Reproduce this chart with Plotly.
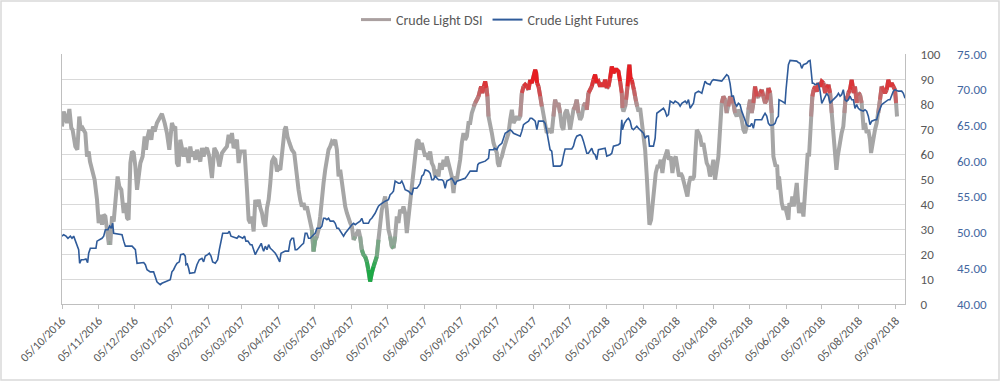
import pandas as pd
import plotly.graph_objects as go

START = "2016-10-05"

# Crude Light DSI: days since START, value (0-100)
DSI_DAY = [
    0, 1.4, 4.2, 6.2, 7.8, 8.9, 11.2, 12.9, 14.5, 15.7, 17.3, 19.6, 21.0, 22.4, 23.5, 25.2, 27.4, 29.4,
    30.8, 32.2, 33.6, 35.0, 36.4, 37.8, 39.2, 40.6, 42.0, 43.4, 44.8, 46.7, 48.1, 49.8, 51.8, 53.2, 54.6,
    55.9, 57.4, 58.8, 60.2, 61.6, 63.0, 64.4, 65.8, 67.7, 69.4, 70.5, 71.6, 73.3, 75.0, 76.4, 77.8, 79.7,
    81.7, 83.9, 86.2, 88.1, 90.1, 92.3, 93.7, 95.1, 96.5, 97.9, 99.3, 100.7, 102.1, 103.5, 104.9, 106.3,
    107.7, 109.1, 110.5, 111.9, 113.3, 114.7, 116.1, 117.5, 118.9, 120.3, 121.7, 123.7, 125.9, 127.9,
    130.1, 132.1, 134.3, 136.3, 138.5, 139.9, 141.3, 142.7, 144.1, 145.5, 146.9, 148.3, 149.7, 151.1,
    153.3, 155.3, 156.7, 158.1, 159.5, 160.9, 162.3, 163.7, 165.1, 166.5, 167.9, 169.3, 170.7, 172.1,
    173.5, 174.9, 176.3, 177.7, 179.1, 180.5, 181.9, 183.3, 184.7, 186.9,
    188.0, 189.3, 191.0, 193.0, 195.0, 196.6, 198.6, 200.0, 201.4, 202.8, 204.2, 205.6, 207.0, 208.4,
    209.8, 211.2, 212.6, 214.0, 215.4, 216.8, 218.2, 219.6, 221.0, 222.4, 223.8, 225.2, 226.6, 228.0,
    229.4, 230.8, 232.2, 233.6, 235.0, 236.4, 237.8, 239.2, 240.6, 242.0, 243.4, 244.8, 246.2, 247.6,
    249.0, 250.3, 251.7, 253.1, 254.5, 255.9, 257.3, 258.7, 260.1, 261.5, 262.9, 264.3, 265.7, 267.1,
    268.5, 269.9, 271.3, 272.7, 274.1, 275.5, 276.9, 278.3, 279.7, 281.1, 282.5, 283.9, 285.3, 286.7,
    288.1, 289.5, 290.9, 292.3, 293.7, 295.1, 296.5, 297.9, 299.3, 300.7, 302.1, 303.5, 304.9, 306.3,
    307.7, 309.1, 310.5, 311.9, 313.3, 314.7, 316.1, 317.5, 318.9, 320.3, 321.7, 323.1, 324.5, 325.9,
    327.3, 328.7, 330.1, 331.5, 332.9, 334.3, 335.7, 337.1, 338.5, 339.9, 341.3,
    342.7, 344.1, 345.5, 346.9, 348.3, 349.7, 351.1, 351.9, 353.0, 354.2, 355.3, 356.4, 357.2, 358.1,
    359.5, 360.9, 362.3, 363.7, 365.1, 365.9, 367.0, 368.1, 369.3, 370.7, 372.1, 373.5, 374.9, 376.3,
    377.7, 379.1, 380.5, 381.9, 383.3, 384.7, 386.1, 387.5, 388.9, 390.3, 391.7, 393.1, 394.5, 395.9,
    397.3, 398.1, 398.9, 400.1, 401.5, 402.8, 404.2, 405.6, 407.0, 408.4, 409.8, 411.2, 412.6, 414.0,
    415.4, 416.8, 418.2, 419.6, 421.0, 422.4, 423.8, 425.2, 426.6, 428.0, 429.4, 430.8, 432.2, 433.6,
    435.0, 436.4, 437.8, 439.2, 440.6, 442.0, 443.4, 444.8, 446.2, 447.6, 449.0, 450.4, 451.8, 453.2,
    454.6, 456.0, 457.4, 458.8, 460.2, 461.6, 463.0, 464.4, 465.8, 467.2,
    468.6, 470.0, 470.6, 471.4, 472.8, 473.6, 474.8, 475.6, 476.4, 477.3, 478.4, 479.2, 480.3, 481.2,
    482.0, 482.9, 484.0, 485.4, 486.8, 488.2, 489.6, 491.0, 491.8, 492.4, 493.2, 494.6, 495.7, 497.1,
    498.5, 499.9, 501.3, 502.7, 504.1, 505.5, 506.9, 508.3, 509.7, 511.1, 512.5, 513.9, 515.3, 516.7,
    518.1, 519.5, 520.9, 522.3, 523.7, 525.1, 526.5, 527.9, 529.3, 530.7, 531.6, 533.0, 534.4, 535.8,
    537.2, 538.5, 539.9, 541.3, 542.7, 544.1, 545.5, 546.9, 548.3, 549.7, 551.1, 552.5, 553.9, 555.3,
    556.7, 558.1, 559.5, 560.9, 562.3, 563.7, 565.1, 566.5, 567.9, 569.3, 570.7, 572.1, 573.5, 574.9,
    576.3, 577.7, 579.1, 580.5, 581.9, 583.3, 584.7, 586.1, 587.5, 588.9, 590.3,
    591.7, 593.1, 594.5, 595.9, 597.3, 598.1, 599.2, 600.4, 601.5, 602.0, 602.9, 604.3, 605.7, 607.1,
    608.5, 609.9, 610.7, 612.1, 613.2, 614.4, 615.5, 616.9, 617.7, 618.8, 620.0, 621.1, 622.5, 623.3,
    624.4, 625.3, 626.1, 627.2, 628.1, 628.9, 630.0, 631.1, 632.3, 633.7, 635.1, 636.5, 637.9, 639.3,
    640.7, 642.1, 643.5, 644.9, 646.3, 647.7, 649.1, 650.2, 651.3, 652.4, 653.5, 654.6, 656.0, 656.9,
    658.0, 659.1, 660.2, 661.6, 663.0, 663.9, 664.7, 665.8, 667.2, 668.6, 670.0, 671.4, 672.3, 673.1,
    674.2, 675.6, 677.0, 678.4, 679.3, 680.4, 681.5, 682.6, 684.0, 685.4, 686.8, 688.2, 689.6, 691.0,
    692.4, 693.8, 695.2, 696.6, 698.0, 699.4, 700.3, 701.1,
]
DSI_VAL = [
    71.0, 77.0, 72.4, 78.0, 70.4, 69.7, 63.0, 61.7, 75.0, 69.7, 70.4, 68.4, 59.0, 61.0, 57.0, 53.7, 49.7, 41.7,
    32.4, 35.7, 31.7, 35.7, 35.0, 29.7, 24.4, 24.4, 35.0, 33.0, 41.7, 51.0, 47.0, 45.7, 36.4, 40.4, 34.4,
    33.7, 56.4, 61.0, 60.4, 55.0, 45.7, 51.0, 56.4, 59.0, 67.0, 61.7, 66.4, 69.7, 65.7, 71.0, 69.0, 72.4,
    74.4, 76.1, 72.4, 68.4, 61.7, 72.4, 70.4, 71.0, 56.4, 55.0, 65.7, 61.7, 59.0, 62.4, 60.4, 56.4,
    63.0, 59.0, 61.0, 57.7, 61.7, 59.0, 57.0, 62.4, 59.0, 61.7, 62.4, 59.0, 50.4, 62.4,
    60.4, 55.0, 60.4, 61.7, 63.0, 67.7, 64.4, 68.4, 62.4, 63.7, 65.7, 56.4, 61.0, 61.0,
    61.0, 45.7, 33.7, 32.4, 35.0, 29.0, 41.7, 39.0, 41.7, 38.4, 36.4, 32.4, 31.0, 38.4,
    41.7, 48.4, 57.0, 58.4, 57.7, 53.0, 54.4, 53.7, 61.7, 69.7,
    71.0, 67.0, 64.4, 61.7, 60.4, 52.4, 45.7, 41.7, 39.0, 40.4, 37.7, 39.0, 36.4, 33.7,
    29.7, 21.0, 25.7, 27.0, 29.7, 35.0, 43.0, 48.4, 53.7, 57.7, 61.7, 63.0, 65.0, 64.4,
    65.7, 61.7, 51.0, 53.7, 48.4, 43.0, 39.0, 36.4, 33.7, 32.4, 31.0, 25.7, 27.0, 28.4,
    29.7, 27.0, 21.7, 19.7, 19.0, 17.0, 13.7, 9.0, 12.4, 15.0, 17.0, 19.0, 25.7, 32.4,
    37.7, 40.4, 43.0, 37.7, 29.7, 27.0, 23.0, 22.4, 27.0, 35.0, 32.4, 37.7, 36.4, 39.0,
    36.4, 28.4, 35.0, 40.4, 44.4, 51.0, 60.4, 65.0, 65.7, 61.7, 64.4, 61.7, 59.0, 60.4,
    57.7, 61.0, 56.4, 55.0, 51.0, 53.7, 51.0, 56.4, 53.7, 57.7, 55.0, 59.0, 56.4, 53.7,
    51.0, 44.4, 51.0, 49.7, 53.7, 57.7, 64.4, 68.4, 65.7, 67.0, 72.4,
    72.4, 76.4, 79.0, 80.4, 81.7, 83.0, 85.7, 87.0, 84.4, 87.0, 89.0, 86.4, 83.0, 75.0,
    72.4, 68.4, 64.4, 61.7, 60.4, 56.4, 55.0, 57.7, 59.0, 61.7, 64.4, 65.7, 68.4, 73.7,
    77.7, 72.4, 73.7, 75.0, 73.7, 75.0, 84.4, 87.0, 87.7, 87.0, 85.7, 89.7, 88.4, 91.0,
    93.7, 92.4, 88.4, 87.0, 83.0, 79.0, 75.0, 71.0, 68.4, 69.7, 69.7, 68.4, 75.0, 81.7,
    79.0, 80.4, 76.4, 71.0, 69.7, 76.4, 77.7, 75.0, 69.7, 73.7, 77.7, 79.0, 81.7, 76.4,
    73.7, 75.0, 79.0, 80.4, 77.7, 84.4, 85.7, 87.0, 89.7, 91.7, 88.4, 89.0, 87.0, 88.4,
    87.0, 89.7, 86.4, 87.0, 90.4, 95.0, 92.4, 93.7, 93.7, 93.0,
    89.0, 84.4, 78.4, 77.0, 79.0, 81.7, 87.0, 93.7, 95.7, 90.4, 89.7, 87.7, 85.7, 83.0,
    81.0, 79.0, 77.0, 78.4, 73.7, 67.0, 61.7, 51.0, 40.4, 33.7, 31.7, 33.7, 40.4, 47.0,
    52.4, 55.0, 55.0, 57.7, 52.4, 57.7, 60.4, 61.7, 57.7, 59.0, 52.4, 57.7, 59.0, 53.7,
    51.0, 52.4, 51.0, 48.4, 45.7, 43.0, 48.4, 51.0, 49.7, 51.0, 59.0, 69.7, 68.4, 67.0,
    63.0, 64.4, 60.4, 56.4, 55.0, 51.0, 53.7, 57.7, 49.7, 53.7, 59.0, 69.7, 80.4, 83.0,
    81.7, 76.4, 79.0, 83.0, 81.7, 80.4, 76.4, 75.0, 77.7, 76.4, 73.7, 69.7, 68.4, 71.0,
    77.7, 81.7, 76.4, 80.4, 87.0, 83.0, 83.0, 84.4, 85.7, 83.0, 80.4,
    81.7, 86.4, 84.4, 76.4, 59.0, 57.7, 55.0, 55.7, 45.7, 51.0, 45.7, 40.4, 37.7, 39.0,
    36.4, 33.7, 40.4, 39.0, 43.0, 39.0, 43.0, 48.4, 43.0, 36.4, 39.0, 40.4, 35.0, 41.7,
    48.4, 56.4, 60.4, 59.0, 68.4, 75.0, 83.0, 85.7, 87.0, 85.0, 88.4, 87.0, 89.0, 88.4,
    84.4, 86.4, 87.7, 84.4, 76.4, 69.7, 57.7, 53.7, 59.0, 63.0, 65.7, 68.4, 71.0, 76.4,
    83.0, 81.7, 84.4, 85.7, 89.7, 87.0, 84.4, 87.0, 80.4, 84.4, 83.7, 80.4, 73.7, 69.7,
    72.4, 68.4, 69.7, 65.7, 60.4, 64.4, 67.0, 69.7, 72.4, 76.4, 81.7, 87.0, 85.7, 84.4,
    85.7, 89.7, 87.0, 88.4, 87.0, 85.7, 80.4, 75.0,
]

# Crude Light Futures: days since START, price (USD)
FUT_DAY = [
    0, 1.4, 3.4, 5.0, 7.0, 8.4, 9.8, 11.2, 12.6, 14.0, 14.8, 16.2, 18.2, 20.1, 21.5, 22.4, 23.8, 28.5,
    29.4, 31.3, 33.6, 35.0, 36.4, 38.6, 40.0, 41.4, 42.5, 43.4, 50.4, 51.8, 53.2, 58.8, 60.2, 61.6,
    63.0, 65.8, 68.6, 70.0, 71.4, 74.1, 76.9, 78.3, 79.7, 81.1, 82.5, 83.9, 86.7, 89.5, 90.9, 92.3,
    93.7, 95.1, 96.5, 98.5, 99.6, 102.1, 103.5, 104.1, 105.2, 106.3, 107.2, 111.4, 113.3, 115.3,
    117.5, 118.9, 120.3, 122.3, 123.7, 125.1, 126.5, 128.7, 130.7, 132.1, 133.5, 134.9, 139.3, 140.5,
    141.9, 146.9, 148.3, 151.7, 153.3, 154.4, 156.1, 158.1, 159.5, 160.9, 162.3, 163.7, 165.6, 167.3,
    168.4, 169.3, 170.7, 172.1, 173.5, 174.9, 176.3, 177.7, 179.1, 180.5, 181.9, 182.8, 183.9,
    187.4, 190.2, 191.6, 193.0, 194.4, 195.8, 197.2, 198.6, 200.0, 201.4, 202.8, 204.2, 205.6, 207.0,
    208.4, 209.8, 211.2, 212.6, 214.0, 216.8, 218.2, 219.6, 221.0, 222.4, 223.8, 225.2, 228.0, 229.4,
    230.8, 232.2, 233.6, 235.0, 236.4, 237.8, 239.2, 240.6, 242.0, 243.4, 244.8, 246.2, 247.6, 250.3,
    251.7, 253.1, 257.3, 258.7, 260.1, 261.5, 262.9, 264.3, 265.7, 267.1, 268.5, 271.3, 274.1, 275.5,
    276.9, 278.3, 279.7, 282.5, 283.9, 285.3, 286.7, 288.1, 290.9, 292.3, 293.7, 295.1, 297.9, 299.3,
    300.7, 302.1, 303.5, 304.9, 307.7, 309.1, 310.5, 311.9, 313.3, 316.1, 318.9, 320.3, 321.7, 323.1,
    325.9, 327.3, 328.7, 330.1, 331.5, 335.7, 338.5, 339.9, 341.3,
    342.7, 348.3, 349.1, 350.2, 355.3, 358.1, 358.9, 362.3, 363.1, 365.1, 366.5, 367.9, 369.3, 370.7,
    372.1, 374.9, 376.3, 377.7, 379.1, 381.9, 384.7, 386.1, 387.5, 388.9, 391.7, 393.1, 394.5, 395.9,
    397.3, 398.7, 400.1, 404.2, 405.6, 407.0, 408.4, 409.8, 411.2, 412.6, 418.2, 419.6, 421.0, 422.4,
    428.0, 429.4, 430.8, 432.2, 435.0, 436.4, 437.8, 439.2, 440.6, 442.0, 443.4, 444.8, 446.2, 447.6,
    449.0, 450.4, 456.0, 457.4, 460.2, 461.6, 463.0, 467.2, 468.6,
    470.0, 470.6, 472.2, 474.2, 475.6, 477.0, 478.4, 479.8, 481.2, 482.6, 484.0, 485.4, 486.8, 488.2,
    489.6, 491.0, 492.4, 493.2, 496.6, 498.0, 499.4, 502.2, 503.6, 505.0, 506.4, 507.8, 509.2, 510.6,
    513.4, 514.8, 517.6, 519.0, 520.4, 523.2, 524.6, 526.0, 527.4, 528.8, 530.2, 531.6, 534.4, 537.2,
    538.5, 539.9, 541.3, 544.1, 545.5, 546.9, 553.9, 556.7, 558.1, 559.5, 560.9, 562.3, 563.7, 565.1,
    566.5, 567.9, 569.3, 570.7, 572.1, 573.5, 574.9, 576.3, 577.7, 579.1, 580.5, 581.9, 587.5, 588.9,
    590.3,
    591.7, 593.1, 594.5, 597.3, 598.7, 600.1, 601.5, 602.0, 604.3, 607.1, 607.9, 609.0, 609.9, 611.3,
    615.5, 616.9, 618.3, 619.7, 621.1, 622.5, 623.9, 625.3, 626.7, 628.1, 628.9, 630.0, 631.1, 632.3,
    635.1, 636.5, 637.9, 639.3, 640.7, 642.1, 643.5, 644.9, 646.3, 647.7, 649.1, 650.5, 651.9, 653.3,
    654.6, 656.0, 657.4, 658.8, 660.2, 661.6, 663.0, 664.4, 665.8, 667.2, 668.6, 670.0, 672.8, 674.2,
    675.6, 677.0, 678.4, 679.8, 682.6, 684.0, 685.4, 686.8, 688.2, 689.6, 692.4, 693.8, 695.2, 696.6,
    698.0, 699.4, 702.2, 705.0, 706.4, 707.8,
]
FUT_VAL = [
    49.5, 49.7, 49.5, 49.2, 49.5, 49.2, 49.5, 48.8, 48.1, 47.6, 45.7, 46.2, 46.2, 46.3, 45.8, 47.1, 47.8, 47.8,
    48.8, 49.0, 49.2, 49.5, 50.4, 50.4, 50.9, 50.6, 51.3, 49.9, 49.7, 48.8, 48.1, 48.1, 47.8, 47.6,
    45.7, 45.7, 45.8, 45.5, 44.8, 44.5, 44.5, 43.8, 43.1, 42.9, 42.7, 42.9, 43.1, 43.3, 43.4, 44.5,
    44.8, 45.3, 45.7, 45.9, 46.9, 47.0, 46.7, 45.5, 45.6, 45.0, 44.3, 44.4, 45.5, 46.2,
    46.4, 45.9, 46.7, 46.9, 47.1, 46.7, 45.9, 45.7, 46.2, 47.6, 48.8, 49.9, 49.9, 50.2,
    49.5, 49.2, 49.5, 49.2, 49.5, 48.8, 48.8, 48.3, 48.3, 47.6, 46.9, 47.4, 48.1, 48.5,
    47.8, 47.4, 48.1, 47.6, 48.3, 47.8, 47.6, 47.4, 47.1, 46.7, 46.2, 45.9, 47.1,
    47.4, 47.4, 48.8, 49.2, 49.2, 47.6, 47.6, 47.8, 48.1, 48.3, 48.5, 49.9, 49.9, 49.2,
    49.2, 49.5, 49.7, 49.9, 50.6, 50.6, 50.9, 52.0, 52.0, 51.8, 52.0, 51.6, 51.6, 51.3,
    50.6, 50.6, 50.2, 49.9, 49.5, 49.9, 50.2, 50.6, 50.9, 51.1, 51.3, 51.1, 51.3, 51.6,
    52.0, 51.3, 51.3, 51.8, 52.0, 52.3, 52.7, 53.2, 53.7, 53.9, 54.1, 54.4, 54.6, 55.3,
    55.5, 55.8, 57.2, 56.9, 56.9, 57.2, 56.7, 56.0, 55.8, 55.5, 55.3, 56.2, 56.2, 56.5,
    56.9, 57.9, 58.1, 58.8, 58.6, 58.3, 57.4, 57.4, 57.9, 57.4, 57.4, 57.2, 56.2, 57.2,
    57.4, 57.6, 57.2, 56.7, 57.2, 57.4, 57.6, 57.9, 58.3,
    58.6, 58.6, 59.5, 59.7, 60.0, 60.4, 61.6, 61.6, 61.8, 61.6, 62.1, 62.3, 62.5, 63.2,
    63.9, 64.2, 64.4, 64.2, 63.9, 63.7, 63.5, 64.2, 65.1, 65.3, 65.6, 66.0, 66.0, 65.8,
    65.6, 64.4, 65.6, 65.6, 65.3, 64.2, 62.8, 61.6, 61.4, 59.3, 59.3, 59.5, 60.7, 61.7,
    61.7, 62.1, 63.0, 63.5, 63.7, 63.5, 62.8, 62.1, 61.1, 61.1, 61.4, 61.8, 61.1, 60.9,
    60.2, 61.6, 61.8, 60.7, 60.9, 61.1, 62.1, 62.3, 62.5,
    65.8, 64.4, 65.3, 65.8, 66.0, 65.6, 64.6, 64.4, 64.6, 64.9, 64.6, 64.4, 64.2, 63.9,
    63.2, 63.5, 63.5, 62.1, 62.1, 63.2, 66.7, 67.0, 67.2, 67.4, 67.0, 66.3, 66.5, 68.4,
    68.1, 68.4, 68.1, 67.7, 68.1, 68.4, 68.1, 68.6, 67.4, 67.7, 68.1, 69.5, 69.8, 69.5,
    70.5, 71.2, 70.9, 70.7, 71.2, 71.4, 71.2, 71.9, 72.1, 71.9, 70.9, 69.1, 69.1, 68.1,
    67.7, 68.1, 67.9, 67.0, 66.3, 65.8, 65.1, 64.9, 64.9, 65.3, 64.6, 65.8, 65.8, 66.3,
    66.7,
    66.3, 65.3, 65.0, 65.1, 65.3, 66.0, 66.3, 68.6, 68.4, 68.1, 70.0, 71.9, 73.5, 74.1,
    74.1, 74.0, 73.8, 73.7, 73.0, 73.5, 73.6, 73.7, 74.0, 74.1, 72.8, 70.9, 70.9, 70.7,
    70.9, 69.8, 68.1, 68.6, 69.1, 69.5, 69.1, 68.1, 68.4, 68.6, 68.8, 69.1, 69.5, 69.1,
    69.3, 70.0, 68.6, 68.4, 68.6, 69.1, 68.6, 68.6, 67.4, 67.9, 67.4, 67.2, 67.0, 67.2,
    67.0, 66.3, 65.1, 65.6, 65.8, 65.8, 66.7, 67.4, 67.9, 68.1, 68.4, 68.6, 68.6, 69.1,
    69.8, 70.0, 69.8, 69.8, 69.5, 68.8,
]

DSI_TICKS = list(range(0, 101, 10))
FUT_TICKS = [40, 45, 50, 55, 60, 65, 70, 75]
X_TICKS = pd.date_range("2016-10-05", "2018-09-05", freq=pd.DateOffset(months=1))
X_END = "2018-09-12 19:00"

FONT = "Calibri, Carlito, Lato, sans-serif"
GRAY = (166, 166, 166)
RED = (230, 30, 34)
GREEN = (30, 168, 70)
BLUE = "#2f5b9a"
NLEV = 6

t0 = pd.Timestamp(START)
dsi_x = [t0 + pd.Timedelta(days=d) for d in DSI_DAY]
fut_x = [t0 + pd.Timedelta(days=d) for d in FUT_DAY]


def mix(c1, c2, t):
    return "rgb(%d,%d,%d)" % tuple(round(a + (b - a) * t) for a, b in zip(c1, c2))


def level(v):
    if v > 78:
        return ("r", max(1, round(min((v - 78) / 12, 1) * NLEV)))
    if v < 27:
        return ("g", max(1, round(min((27 - v) / 14, 1) * NLEV)))
    return None


# group DSI segments into colour bands (gradient look)
bands = {}
prev_key = None
for i in range(len(DSI_VAL) - 1):
    key = level((DSI_VAL[i] + DSI_VAL[i + 1]) / 2)
    if key is not None:
        xs, ys = bands.setdefault(key, ([], []))
        if prev_key != key:
            if xs:
                xs.append(None)
                ys.append(None)
            xs.append(dsi_x[i])
            ys.append(DSI_VAL[i])
        xs.append(dsi_x[i + 1])
        ys.append(DSI_VAL[i + 1])
    prev_key = key

fig = go.Figure()
fig.add_trace(go.Scatter(x=dsi_x, y=DSI_VAL, mode="lines", showlegend=False,
                         line=dict(color=mix(GRAY, GRAY, 0), width=4), hoverinfo="skip"))
for (kind, lev), (xs, ys) in sorted(bands.items(), key=lambda k: k[0][1]):
    col = mix(GRAY, RED if kind == "r" else GREEN, lev / NLEV)
    fig.add_trace(go.Scatter(x=xs, y=ys, mode="lines", showlegend=False,
                             line=dict(color=col, width=4), hoverinfo="skip"))
fig.add_trace(go.Scatter(x=fut_x, y=FUT_VAL, mode="lines", yaxis="y2", showlegend=False,
                         line=dict(color=BLUE, width=1.6)))
# legend entries
fig.add_trace(go.Scatter(x=[None], y=[None], mode="lines", name="Crude Light DSI",
                         line=dict(color="rgb(170,160,160)", width=3)))
fig.add_trace(go.Scatter(x=[None], y=[None], mode="lines", name="Crude Light Futures",
                         line=dict(color=BLUE, width=2)))

L, R, T, B = 62, 95, 54, 77
PW, PH = 1000 - L - R, 381 - T - B

fig.update_layout(
    width=1000, height=381,
    margin=dict(l=L, r=R, t=T, b=B, pad=0, autoexpand=False),
    paper_bgcolor="white", plot_bgcolor="white",
    font=dict(family=FONT, color="#595959"),
    legend=dict(orientation="h", x=(500 - L) / PW, xanchor="center",
                y=1 + (T - 20) / PH, yanchor="middle",
                font=dict(size=14, color="#595959"), bgcolor="rgba(0,0,0,0)"),
    xaxis=dict(type="date", range=[START, X_END], tickvals=list(X_TICKS),
               ticktext=[d.strftime("%d/%m/%Y") for d in X_TICKS], tickangle=-45,
               ticks="outside", ticklen=4, tickcolor="#bfbfbf", showline=True,
               linecolor="#bfbfbf", showgrid=False, zeroline=False, automargin=False,
               tickfont=dict(size=12, color="#595959")),
    yaxis=dict(range=[0, 100], tickvals=DSI_TICKS, side="right", showgrid=True,
               gridcolor="#d9d9d9", showline=True, mirror=True, linecolor="#bfbfbf",
               zeroline=False, ticks="", ticklabelstandoff=12, automargin=False,
               tickfont=dict(size=13, color="#595959")),
    yaxis2=dict(range=[40, 75], tickvals=FUT_TICKS, tickformat=".2f", overlaying="y",
                side="right", showgrid=False, showline=False, zeroline=False, ticks="",
                ticklabelstandoff=51, automargin=False,
                tickfont=dict(size=13, color="#44679f")),
    shapes=[dict(type="rect", xref="paper", yref="paper",
                 x0=-(L - 1) / PW, x1=1 + (R - 1) / PW, y0=-(B - 1) / PH, y1=1 + (T - 1) / PH,
                 line=dict(color="#d9d9d9", width=1.5), fillcolor="rgba(0,0,0,0)", layer="below")],
)

fig.write_html("out.html", config={"displayModeBar": False},
               post_script="document.body.style.margin='0';")
